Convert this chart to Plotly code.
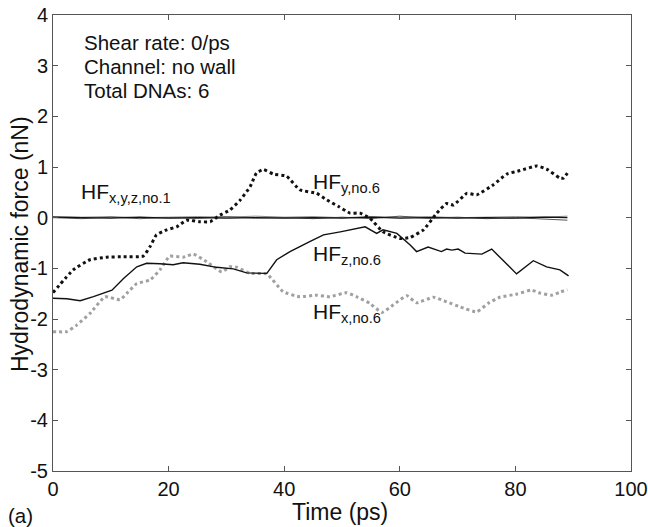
import plotly.graph_objects as go

# HF_y,no.6 (black dotted)
ty6 = [0, 3.5, 6.4, 9.3, 12.2, 15.6, 16.8, 17.9, 19.7, 21.4, 23.1, 25.4, 27.2, 28.9, 30.6, 32.4, 34.1,
       35.2, 36.4, 38.1, 40.4, 42.7, 45.6, 47.4, 49.4, 51.4, 53.1, 54.8, 57.1, 60.0, 61.8, 64.1, 66.4,
       68.1, 69.3, 71.6, 73.3, 76.2, 78.5, 80.8, 83.7, 85.4, 87.7, 88.3, 89.0]
fy6 = [-1.48, -1.03, -0.83, -0.78, -0.77, -0.76, -0.57, -0.34, -0.24, -0.18, -0.05, -0.08, -0.08, 0.05,
       0.15, 0.35, 0.61, 0.88, 0.95, 0.86, 0.82, 0.55, 0.48, 0.35, 0.22, 0.09, 0.09, -0.01, -0.28, -0.41,
       -0.39, -0.24, 0.09, 0.28, 0.25, 0.48, 0.45, 0.65, 0.86, 0.93, 1.02, 0.96, 0.78, 0.78, 0.88]

# HF_z,no.6 (black solid)
tz6 = [0, 2.4, 4.7, 7.0, 10.2, 12.2, 14.5, 16.2, 18.5, 20.8, 22.5, 25.4, 28.3, 31.2, 33.5, 35.8, 37.0,
       38.7, 41.0, 44.5, 46.8, 49.7, 52.0, 54.0, 56.0, 57.1, 59.5, 61.8, 62.9, 64.9, 67.2, 68.1, 69.0,
       70.1, 71.3, 74.2, 75.9, 80.2, 83.1, 85.4, 87.7, 89.2]
fz6 = [-1.59, -1.60, -1.64, -1.56, -1.43, -1.20, -0.97, -0.90, -0.91, -0.93, -0.89, -0.92, -0.98, -1.01,
       -1.09, -1.10, -1.10, -0.83, -0.67, -0.47, -0.34, -0.28, -0.23, -0.18, -0.31, -0.24, -0.31, -0.54,
       -0.67, -0.58, -0.67, -0.62, -0.64, -0.62, -0.70, -0.72, -0.62, -1.11, -0.85, -0.97, -1.03, -1.15]

# HF_x,no.6 (grey dotted)
tx6 = [0, 2.4, 4.1, 6.4, 9.0, 11.6, 12.8, 14.5, 16.8, 18.5, 20.2, 22.5, 24.3, 26.6, 29.2, 30.6, 31.8,
       34.1, 37.0, 39.8, 42.7, 45.6, 47.9, 50.8, 52.5, 54.8, 56.9, 58.9, 61.2, 62.9, 65.8, 68.1, 70.4,
       73.3, 75.3, 77.3, 80.2, 82.8, 84.3, 86.3, 87.7, 89.0]
fx6 = [-2.25, -2.25, -2.12, -1.89, -1.56, -1.62, -1.49, -1.30, -1.23, -1.03, -0.76, -0.78, -0.72, -0.87,
       -1.07, -0.97, -0.98, -1.10, -1.11, -1.46, -1.56, -1.53, -1.56, -1.48, -1.56, -1.69, -1.87, -1.72,
       -1.54, -1.68, -1.57, -1.66, -1.76, -1.86, -1.69, -1.57, -1.51, -1.43, -1.49, -1.53, -1.47, -1.42]

# HF_x,y,z,no.1 (near zero)
t1 = [0, 5, 10, 15, 20, 25, 30, 35, 40, 45, 50, 55, 60, 65, 70, 75, 80, 85, 89]
fx1 = [0.02, 0.01, 0.02, 0.00, 0.01, 0.02, 0.01, 0.03, 0.01, 0.02, 0.00, 0.02, 0.01, 0.02, 0.00, 0.01, 0.02, 0.01, 0.03]
fy1 = [0.00, -0.02, 0.01, -0.02, 0.00, -0.01, 0.02, -0.01, 0.00, -0.02, 0.01, -0.02, 0.03, -0.01, 0.01, -0.02, 0.00, -0.03, -0.05]
fz1 = [0.01, 0.00, -0.01, 0.01, -0.01, 0.00, -0.01, 0.00, -0.01, 0.00, -0.01, 0.01, -0.01, 0.00, -0.01, 0.00, -0.01, 0.01, 0.00]

xticks = [0, 20, 40, 60, 80, 100]
xticklabels = ["0", "20", "40", "60", "80", "100"]
yticks = [-5, -4, -3, -2, -1, 0, 1, 2, 3, 4]
yticklabels = ["-5", "-4", "-3", "-2", "-1", "0", "1", "2", "3", "4"]

FONT = "Liberation Sans, Arial, sans-serif"

fig = go.Figure()
fig.add_trace(go.Scatter(x=t1, y=fx1, mode="lines", line=dict(color="#888888", width=1)))
fig.add_trace(go.Scatter(x=t1, y=fy1, mode="lines", line=dict(color="#555555", width=1)))
fig.add_trace(go.Scatter(x=t1, y=fz1, mode="lines", line=dict(color="#111111", width=1.2)))
fig.add_trace(go.Scatter(x=tx6, y=fx6, mode="lines", line=dict(color="#a0a0a0", width=3, dash="dot", shape="spline", smoothing=0.4)))
fig.add_trace(go.Scatter(x=tz6, y=fz6, mode="lines", line=dict(color="#111111", width=1.4)))
fig.add_trace(go.Scatter(x=ty6, y=fy6, mode="lines", line=dict(color="#111111", width=3, dash="dot", shape="spline", smoothing=0.4)))

axis_common = dict(showline=True, mirror="ticks", linecolor="#555555", linewidth=1, automargin=False,
                   ticks="inside", ticklen=5, tickcolor="#555555", showgrid=False, zeroline=False,
                   tickfont=dict(family=FONT, size=20, color="#111"))

fig.update_xaxes(range=[0, 100], tickvals=xticks, ticktext=xticklabels, **axis_common)
fig.update_yaxes(range=[-5, 4], tickvals=yticks, ticktext=yticklabels, **axis_common)

ann = []
lab = dict(family=FONT, size=21, color="#111")
ann.append(dict(x=12.6, y=0.48, text="HF<sub>x,y,z,no.1</sub>", showarrow=False, font=lab))
ann.append(dict(x=50.8, y=0.68, text="HF<sub>y,no.6</sub>", showarrow=False, font=lab))
ann.append(dict(x=50.8, y=-0.74, text="HF<sub>z,no.6</sub>", showarrow=False, font=lab))
ann.append(dict(x=50.8, y=-1.88, text="HF<sub>x,no.6</sub>", showarrow=False, font=lab))
for i, s in enumerate(["Shear rate: 0/ps", "Channel: no wall", "Total DNAs: 6"]):
    ann.append(dict(xref="paper", yref="paper", x=(82 - 53) / 578, y=1 - (42 + 24.5 * i - 15) / 456,
                    xanchor="left", yanchor="middle", text=s, showarrow=False,
                    font=dict(family=FONT, size=20.5, color="#111")))
ann.append(dict(xref="paper", yref="paper", x=(340 - 53) / 578, y=-(512 - 471) / 456, xanchor="center", yanchor="middle",
                text="Time (ps)", showarrow=False, font=dict(family=FONT, size=23, color="#111")))
ann.append(dict(xref="paper", yref="paper", x=-(53 - 20) / 578, y=(471 - 244) / 456, xanchor="center", yanchor="middle",
                text="Hydrodynamic force (nN)", textangle=-90, showarrow=False,
                font=dict(family=FONT, size=23, color="#111")))
ann.append(dict(xref="paper", yref="paper", x=-(53 - 20.5) / 578, y=-(515 - 471) / 456, xanchor="center", yanchor="middle",
                text="(a)", showarrow=False, font=dict(family=FONT, size=20.5, color="#111")))

fig.update_layout(width=648, height=527, margin=dict(l=53, r=17, t=15, b=56),
                  paper_bgcolor="white", plot_bgcolor="white", showlegend=False,
                  annotations=ann)

fig.write_html("out.html", config={"displayModeBar": False},
               post_script="document.body.style.margin='0';document.body.style.overflow='hidden';")
